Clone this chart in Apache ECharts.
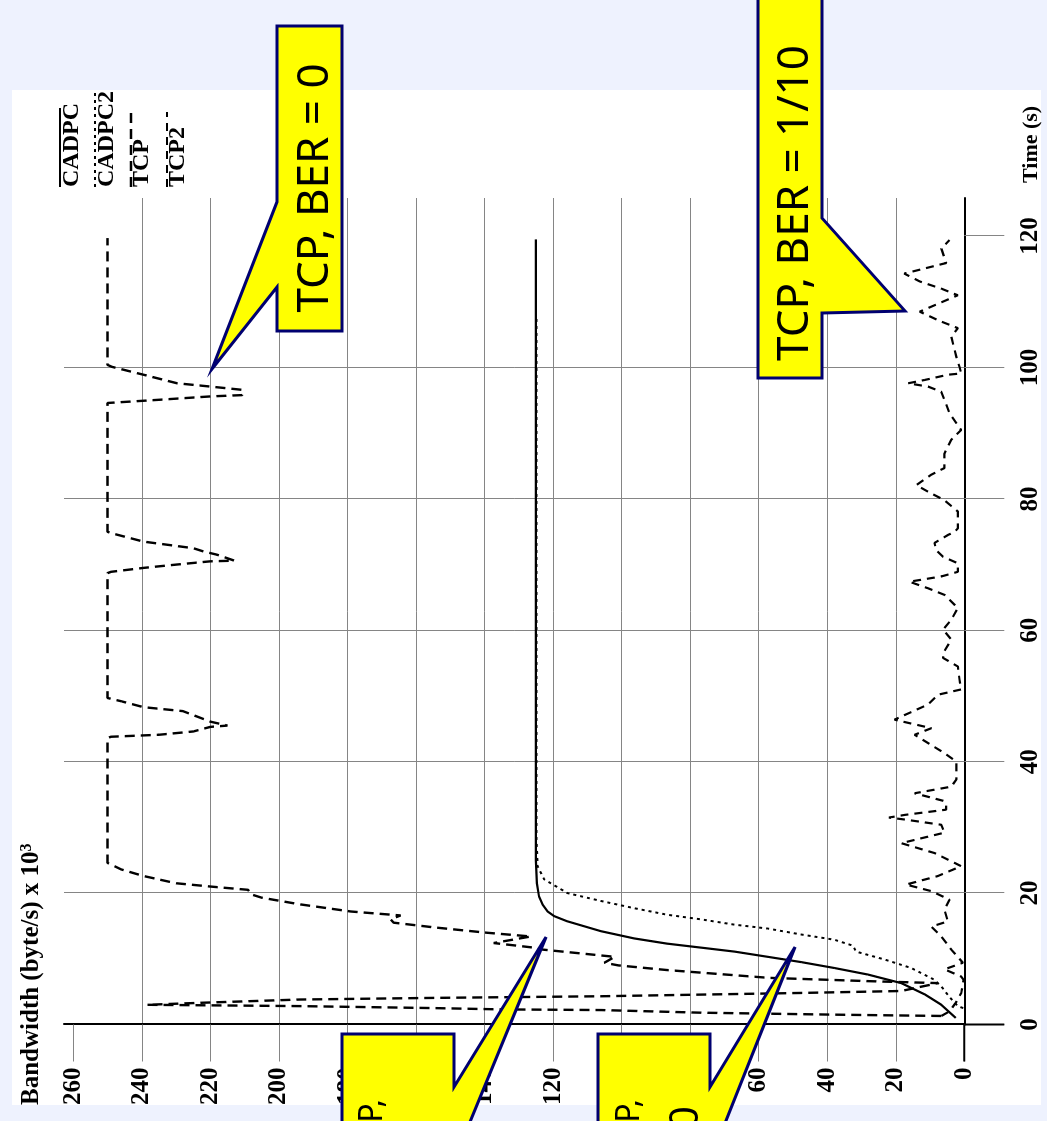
<!DOCTYPE html>
<html>
<head>
<meta charset="utf-8">
<script src="https://cdn.jsdelivr.net/npm/echarts@6/dist/echarts.min.js"></script>
<style>
  html, body { margin: 0; padding: 0; width: 1047px; height: 1121px; overflow: hidden; background: #EEF2FE; }
  #panel { position: absolute; left: 12px; top: 90px; width: 1029px; height: 1015px; background: #ffffff; }
  /* The figure is laid out in landscape and turned a quarter turn counter-clockwise onto the page. */
  #chart { position: absolute; left: 0; top: 0; width: 1121px; height: 1047px;
           transform-origin: 0 0; transform: translate(0, 1121px) rotate(-90deg); }
</style>
</head>
<body>
<div id="panel"></div>
<div id="chart"></div>
<script>
// Axis ticks
const timeTicks = [0, 20, 40, 60, 80, 100, 120];
const bandwidthTicks = [0, 20, 40, 60, 80, 100, 120, 140, 160, 180, 200, 220, 240, 260];

// [time (s), bandwidth (byte/s x 10^3)]
const cadpc = [
  [1.0, 2.5], [3.0, 6.7], [4.6, 11.6], [6.3, 18.4], [7.6, 28.1], [8.6, 37.9], [9.5, 47.6],
  [10.3, 57.3], [11.1, 67.1], [11.7, 76.8], [12.3, 86.6], [13.1, 96.3], [14.2, 106],
  [15.7, 115.8], [16.5, 119.7], [17.2, 121.6], [18.3, 123.1], [19.5, 124.1], [21.5, 124.7],
  [25, 125], [119.5, 125]
];

const cadpc2 = [
  [2.5, 0.3], [2.8, 1.9], [4.3, 4.5], [5.8, 6.7], [6.8, 8.7], [8.6, 15.5], [9.9, 23.3],
  [11.1, 31.6], [12.0, 32.5], [12.9, 37.9], [13.7, 47.6], [14.6, 57.3], [15.2, 67.1],
  [16.0, 76.8], [16.7, 86.6], [17.7, 96.3], [18.8, 106], [20.0, 115.8], [22.1, 122.6],
  [24.1, 124.5], [28.1, 124.8], [108, 124.8]
];

const tcp = [
  [1.3, 6.7], [1.5, 38], [1.8, 77], [2.2, 106], [2.3, 135], [2.5, 155], [2.8, 194], [3.0, 238.5],
  [3.3, 223], [3.8, 194], [4.05, 155], [4.3, 106], [4.55, 77], [4.8, 48], [5.1, 18.4], [6.3, 7.7],
  [6.6, 28], [7.1, 57], [8.3, 87], [9.0, 101], [9.4, 105], [10.3, 102], [11.4, 123], [11.7, 125.6],
  [12.4, 137.3], [13.4, 126.5], [14.0, 140], [14.8, 155], [15.5, 166.5], [16.0, 167.4],
  [16.6, 164.5], [17.2, 179], [18.3, 194], [19.3, 205], [19.8, 208], [20.5, 209], [21.0, 220],
  [21.5, 230], [22.6, 239.5], [23.6, 246], [24.6, 250],
  [43.6, 250], [43.8, 249], [44.1, 235], [44.6, 225], [45.3, 220], [45.5, 215], [46.1, 220],
  [47.7, 228], [48.3, 239.5], [49.2, 246], [49.7, 250],
  [68.7, 250], [68.9, 249], [69.5, 239.5], [70.0, 230], [70.5, 220], [70.6, 213], [71.5, 218],
  [72.0, 222], [72.5, 225], [73.5, 239.5], [74.8, 249], [75.0, 250],
  [94.6, 250], [95.1, 234.6], [95.6, 220], [95.8, 210.7], [96.6, 210.7], [97.1, 220],
  [97.6, 229.7], [98.9, 239.5], [100.1, 248.7], [100.4, 250], [119.7, 250]
];

const tcp2 = [
  [1.3, 6.7], [2.0, 4.3], [3.3, 2.5], [4.8, 0.9], [6.8, 0.2], [7.3, 0.9], [8.4, 5.8], [9.4, 0.4],
  [11.4, 3.8], [13.4, 6.7], [14.9, 9.6], [15.7, 4.8], [17.5, 5.8], [19.0, 4.3], [20.3, 9.6],
  [21.3, 17], [22.6, 7.7], [24.1, 0.9], [26.1, 8.7], [27.6, 18.4], [27.9, 18.4], [29.2, 5.8],
  [30.4, 6.7], [31.2, 17.4], [31.5, 22], [31.9, 17.4], [32.7, 5.3], [33.5, 5.3], [34.0, 5.8],
  [35.2, 14.5], [36.2, 3.8], [37.3, 2.3], [40.0, 2.3], [41.3, 5.8], [44.1, 14.5], [45.1, 9.6],
  [46.4, 20.4], [48.7, 10.6], [50.2, 7.7], [51.0, 0.9], [52.5, 1.4], [54.5, 1.9], [55.8, 6.2],
  [56.5, 6.2], [58.6, 3.8], [60.1, 6.2], [61.6, 3.8], [63.4, 1.9], [65.4, 5.8], [66.4, 10.6],
  [67.4, 16], [68.2, 6.7], [68.9, 1.9], [70.2, 1.9], [71.2, 6.2], [72.2, 8.2], [73.3, 8.7],
  [74.5, 4.8], [75.0, 2.8], [75.5, 1.9], [78.1, 1.9], [79.8, 5.8], [81.1, 10.6], [82.1, 14],
  [83.7, 9.6], [84.7, 5.8], [86.9, 5.8], [89.0, 3.8], [90.5, 0.9], [93.0, 4.3], [95.1, 5.8],
  [96.3, 6.7], [97.1, 10.6], [97.6, 16.4], [98.1, 11.6], [98.9, 4.8], [99.1, 0.9], [100.1, 1.4],
  [101.6, 2.3], [104.7, 3.8], [106.0, 1.9], [107.2, 7.7], [108.5, 13], [108.7, 12.6],
  [111.0, 1.9], [112.0, 6.7], [113.1, 13], [114.3, 17.5], [115.9, 5.3], [118.1, 6.7], [119.4, 4.3]
];

const seriesNames = ['CADPC', 'CADPC2', 'TCP', 'TCP2'];
const seriesData = [cadpc, cadpc2, tcp, tcp2];
const axisTitles = { time: 'Time (s)', bandwidth: 'Bandwidth (byte/s) x 10', bandwidthExp: '3' };
const calloutTexts = [
  ['TCP, BER = 0'],
  ['TCP, BER = 1/10'],
  ['TCP,', 'BER = 0'],
  ['TCP,', 'BER = 1/10']
];

// ---- styling ----
const INK = '#000000';
const GRID = '#858585';
const SERIF = "'Liberation Serif', 'Times New Roman', serif";
const SANS = "'Noto Sans', 'Open Sans', sans-serif";
const lineStyles = [
  { color: INK, width: 2.2, type: 'solid' },
  { color: INK, width: 2, type: [3, 4] },
  { color: INK, width: 2.4, type: [10, 6] },
  { color: INK, width: 2.2, type: [8, 6] }
];

const chart = echarts.init(document.getElementById('chart'), null, { renderer: 'canvas', width: 1121, height: 1047 });

const labelStyle = { color: INK, fontFamily: SERIF, fontWeight: 'bold', fontSize: 25 };

chart.setOption({
  animation: false,
  grid: { left: 96.5, right: 198, top: 64, bottom: 82.7, outerBoundsMode: 'none' },
  xAxis: {
    type: 'value', min: 0, max: 125.8, interval: 20,
    axisLine: { show: true, onZero: false, lineStyle: { color: INK, width: 2 } },
    axisTick: { show: true, length: 40, customValues: timeTicks, lineStyle: { color: GRID, width: 1 } },
    splitLine: { show: true, showMaxLine: false, lineStyle: { color: GRID, width: 1 } },
    axisLabel: Object.assign({ margin: 54, formatter: v => timeTicks.includes(v) ? String(v) : '' }, labelStyle)
  },
  yAxis: {
    type: 'value', min: 0, max: 262.7, interval: 20,
    axisLine: { show: true, onZero: false, lineStyle: { color: INK, width: 2 } },
    axisTick: { show: true, length: 37, customValues: bandwidthTicks, lineStyle: { color: GRID, width: 1 } },
    splitLine: { show: true, showMaxLine: false, lineStyle: { color: GRID, width: 1 } },
    axisLabel: Object.assign({ margin: 43, formatter: v => bandwidthTicks.includes(v) ? String(v) : '' }, labelStyle)
  },
  series: seriesNames.map((name, i) => ({
    name, type: 'line', data: seriesData[i], showSymbol: false, symbol: 'none',
    silent: true, lineStyle: lineStyles[i], z: 3
  }))
});

// origin of the axes, used to run the two axis lines on across the tick band
const origin = chart.convertToPixel({ gridIndex: 0 }, [0, 0]);

const elements = [];
elements.push({ type: 'line', z: 5, shape: { x1: origin[0] - 37, y1: origin[1], x2: origin[0], y2: origin[1] },
  style: { stroke: INK, lineWidth: 2 } });
elements.push({ type: 'line', z: 5, shape: { x1: origin[0], y1: origin[1], x2: origin[0], y2: origin[1] + 40 },
  style: { stroke: INK, lineWidth: 2 } });

// axis titles
elements.push({ type: 'text', z: 5, x: 16, y: 31.6, style: {
  text: axisTitles.bandwidth + '{sup|' + axisTitles.bandwidthExp + '}',
  fill: INK, fontFamily: SERIF, fontWeight: 'bold', fontSize: 25, align: 'left', verticalAlign: 'middle',
  rich: { sup: { fontFamily: SERIF, fontWeight: 'bold', fontSize: 16, verticalAlign: 'top', fill: INK } }
} });
elements.push({ type: 'text', z: 5, x: 938, y: 1031.6, style: {
  text: axisTitles.time, fill: INK, fontFamily: SERIF, fontWeight: 'bold', fontSize: 22,
  align: 'left', verticalAlign: 'middle'
} });

// legend: sample line drawn over the top of each name
const legendLayout = { x: 934, textY: [72, 107, 142, 178], lineY: [60, 95, 131, 167], lineLen: [79, 97, 75, 75] };
seriesNames.forEach((name, i) => {
  elements.push({ type: 'line', z: 6, shape: {
      x1: legendLayout.x, y1: legendLayout.lineY[i], x2: legendLayout.x + legendLayout.lineLen[i], y2: legendLayout.lineY[i] },
    style: { stroke: INK, lineWidth: lineStyles[i].width, lineDash: Array.isArray(lineStyles[i].type) ? lineStyles[i].type : null } });
  elements.push({ type: 'text', z: 6, x: legendLayout.x, y: legendLayout.textY[i], style: {
    text: name, fill: INK, fontFamily: SERIF, fontWeight: 'bold', fontSize: 24, align: 'left', verticalAlign: 'middle' } });
});

// callouts
const calloutLayout = [
  { shape: [[790, 277], [834, 277], [752, 212], [919, 277], [1095, 277], [1095, 342], [790, 342]],
    text: [{ x: 933, y: 315, size: 44, align: 'center' }] },
  { shape: [[743, 758], [1140, 758], [1140, 822], [903, 822], [810, 905], [808, 822], [743, 822]],
    text: [{ x: 918, y: 795, size: 44, align: 'center' }] },
  { shape: [[-80, 342], [87, 342], [87, 454], [34, 454], [184, 546], [-40, 454], [-80, 454]],
    text: [{ x: 22, y: 372.6, size: 32, align: 'right' }, { x: -5, y: 430, size: 40, align: 'right' }] },
  { shape: [[-80, 598], [87, 598], [87, 710], [34, 710], [174, 795], [-40, 710], [-80, 710]],
    text: [{ x: 22, y: 629.6, size: 32, align: 'right' }, { x: 15, y: 686.5, size: 40, align: 'right' }] }
];
calloutLayout.forEach((c, i) => {
  elements.push({ type: 'polygon', z: 20, shape: { points: c.shape },
    style: { fill: '#FFFF00', stroke: '#000070', lineWidth: 3, lineJoin: 'miter' } });
  c.text.forEach((t, j) => {
    elements.push({ type: 'text', z: 21, x: t.x, y: t.y, style: {
      text: calloutTexts[i][j], fill: INK, fontFamily: SANS, fontSize: t.size, align: t.align, verticalAlign: 'middle' } });
  });
});

chart.setOption({ graphic: { elements } });
</script>
</body>
</html>
